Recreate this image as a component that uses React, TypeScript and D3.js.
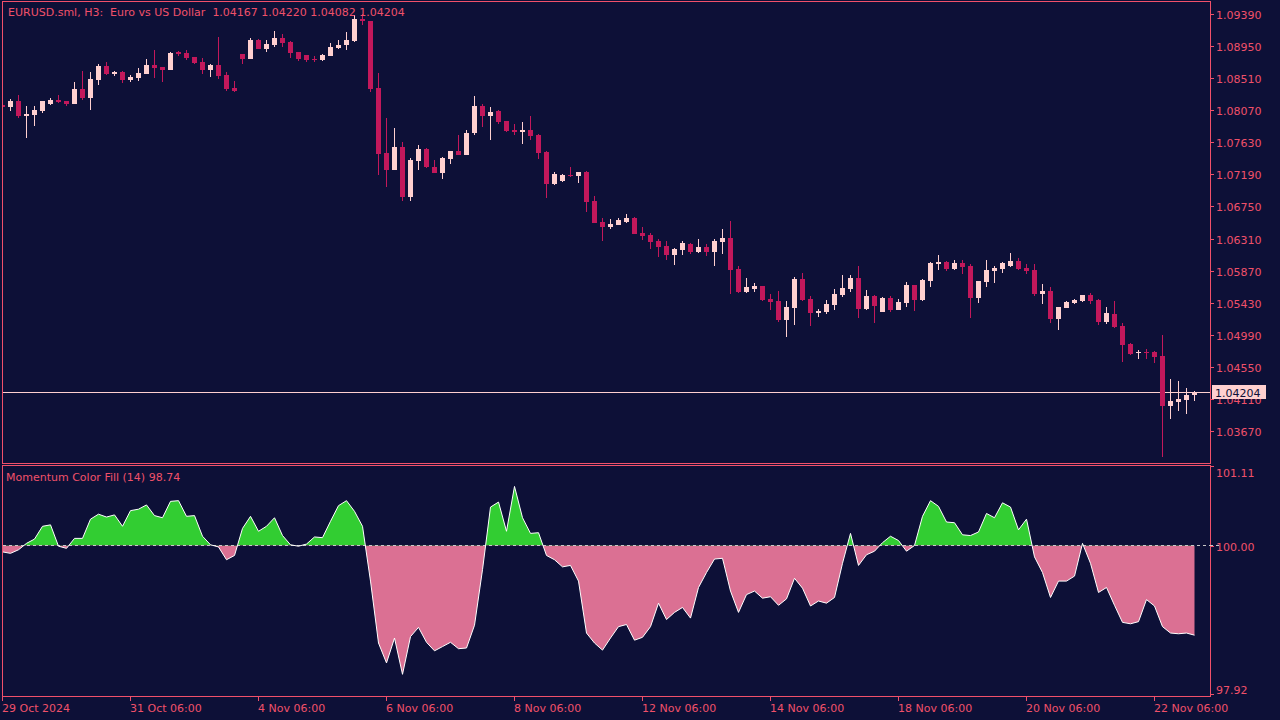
import React from 'react';
import * as d3 from 'd3';

const open = [
  1.08142, 1.08119, 1.08197, 1.07991, 1.08009, 1.08064, 1.08160, 1.08215, 1.08197, 1.08160,
  1.08361, 1.08238, 1.08485, 1.08677, 1.08571, 1.08594, 1.08485, 1.08512, 1.08567, 1.08690,
  1.08663, 1.08622, 1.08869, 1.08855, 1.08800, 1.08732, 1.08622, 1.08690, 1.08553, 1.08375,
  1.08841, 1.08773, 1.09033, 1.08910, 1.08965, 1.09061, 1.09006, 1.08869, 1.08828, 1.08773,
  1.08759, 1.08814, 1.08924, 1.08965, 1.09020, 1.09321, 1.09294, 1.08375, 1.07484, 1.07250,
  1.07566, 1.06880, 1.07374, 1.07538, 1.07292, 1.07209, 1.07401, 1.07511, 1.07456, 1.07758,
  1.08128, 1.07991, 1.08060, 1.07922, 1.07799, 1.07772, 1.07799, 1.07730, 1.07497, 1.07058,
  1.07100, 1.07182, 1.07168, 1.07223, 1.06825, 1.06537, 1.06469, 1.06496, 1.06537, 1.06592,
  1.06386, 1.06359, 1.06277, 1.06208, 1.06085, 1.06153, 1.06235, 1.06126, 1.06194, 1.06126,
  1.06263, 1.06318, 1.05893, 1.05577, 1.05618, 1.05659, 1.05481, 1.05454, 1.05193, 1.05358,
  1.05755, 1.05481, 1.05289, 1.05303, 1.05399, 1.05536, 1.05618, 1.05769, 1.05344, 1.05522,
  1.05303, 1.05495, 1.05330, 1.05426, 1.05673, 1.05467, 1.05728, 1.05961, 1.05989, 1.05893,
  1.05975, 1.05934, 1.05495, 1.05714, 1.05865, 1.05893, 1.05934, 1.06002, 1.05906, 1.05879,
  1.05550, 1.05591, 1.05207, 1.05358, 1.05426, 1.05454, 1.05536, 1.05467, 1.05166, 1.05275,
  1.05111, 1.04864, 1.04740, 1.04754, 1.04754, 1.04699, 1.04013, 1.04068, 1.04096, 1.04167,
];
const high = [
  1.08156, 1.08224, 1.08279, 1.08128, 1.08128, 1.08197, 1.08238, 1.08279, 1.08197, 1.08457,
  1.08608, 1.08594, 1.08708, 1.08732, 1.08612, 1.08608, 1.08553, 1.08649, 1.08773, 1.08896,
  1.08663, 1.08873, 1.08883, 1.08896, 1.08800, 1.08787, 1.08704, 1.09075, 1.08594, 1.08471,
  1.08841, 1.09061, 1.09047, 1.09033, 1.09157, 1.09116, 1.09020, 1.08869, 1.08828, 1.08814,
  1.08841, 1.08992, 1.09033, 1.09143, 1.09376, 1.09390, 1.09294, 1.08581, 1.07964, 1.07826,
  1.07634, 1.07415, 1.07593, 1.07552, 1.07388, 1.07429, 1.07511, 1.07730, 1.07799, 1.08265,
  1.08156, 1.08114, 1.08073, 1.07922, 1.07881, 1.07909, 1.07991, 1.07744, 1.07511, 1.07223,
  1.07196, 1.07292, 1.07223, 1.07237, 1.06894, 1.06592, 1.06578, 1.06592, 1.06647, 1.06606,
  1.06469, 1.06386, 1.06304, 1.06277, 1.06181, 1.06277, 1.06249, 1.06304, 1.06235, 1.06304,
  1.06441, 1.06551, 1.05934, 1.05769, 1.05701, 1.05659, 1.05550, 1.05591, 1.05454, 1.05783,
  1.05838, 1.05522, 1.05344, 1.05467, 1.05618, 1.05810, 1.05810, 1.05934, 1.05605, 1.05536,
  1.05508, 1.05522, 1.05481, 1.05714, 1.05673, 1.05755, 1.05989, 1.06085, 1.06002, 1.06016,
  1.06016, 1.05961, 1.05728, 1.06016, 1.05934, 1.05989, 1.06112, 1.06043, 1.05961, 1.05961,
  1.05687, 1.05646, 1.05371, 1.05454, 1.05481, 1.05536, 1.05563, 1.05481, 1.05371, 1.05454,
  1.05152, 1.04878, 1.04782, 1.04795, 1.04768, 1.04987, 1.04384, 1.04356, 1.04260, 1.04220,
];
const low = [
  1.08101, 1.08064, 1.07968, 1.07693, 1.07858, 1.08036, 1.08142, 1.08173, 1.08132, 1.08160,
  1.08215, 1.08077, 1.08416, 1.08553, 1.08544, 1.08444, 1.08461, 1.08471, 1.08567, 1.08512,
  1.08457, 1.08622, 1.08814, 1.08759, 1.08704, 1.08567, 1.08526, 1.08498, 1.08334, 1.08320,
  1.08704, 1.08773, 1.08910, 1.08869, 1.08937, 1.08937, 1.08787, 1.08745, 1.08732, 1.08732,
  1.08745, 1.08814, 1.08910, 1.08896, 1.09006, 1.09239, 1.08320, 1.07182, 1.07017, 1.07250,
  1.06825, 1.06825, 1.07250, 1.07278, 1.07209, 1.07127, 1.07333, 1.07456, 1.07456, 1.07730,
  1.07840, 1.07662, 1.07881, 1.07772, 1.07730, 1.07607, 1.07662, 1.07401, 1.06866, 1.07045,
  1.07086, 1.07154, 1.07072, 1.06674, 1.06523, 1.06277, 1.06441, 1.06496, 1.06523, 1.06373,
  1.06290, 1.06167, 1.06057, 1.06016, 1.05947, 1.06085, 1.06098, 1.06112, 1.06071, 1.05934,
  1.06098, 1.05550, 1.05563, 1.05563, 1.05577, 1.05454, 1.05330, 1.05166, 1.04960, 1.05124,
  1.05454, 1.05111, 1.05234, 1.05275, 1.05330, 1.05508, 1.05577, 1.05220, 1.05330, 1.05152,
  1.05303, 1.05303, 1.05330, 1.05371, 1.05316, 1.05454, 1.05646, 1.05879, 1.05865, 1.05879,
  1.05824, 1.05220, 1.05426, 1.05646, 1.05701, 1.05838, 1.05920, 1.05879, 1.05824, 1.05522,
  1.05412, 1.05152, 1.05056, 1.05358, 1.05412, 1.05440, 1.05412, 1.05124, 1.05138, 1.05083,
  1.04617, 1.04713, 1.04658, 1.04658, 1.04603, 1.03314, 1.03835, 1.03945, 1.03904, 1.04082,
];
const close = [
  1.08114, 1.08197, 1.07991, 1.08018, 1.08077, 1.08197, 1.08215, 1.08187, 1.08160, 1.08361,
  1.08238, 1.08498, 1.08677, 1.08567, 1.08594, 1.08485, 1.08526, 1.08581, 1.08690, 1.08649,
  1.08622, 1.08855, 1.08841, 1.08787, 1.08718, 1.08622, 1.08690, 1.08540, 1.08361, 1.08334,
  1.08773, 1.09033, 1.08910, 1.08979, 1.09061, 1.08992, 1.08855, 1.08773, 1.08759, 1.08770,
  1.08828, 1.08937, 1.08965, 1.09033, 1.09321, 1.09294, 1.08361, 1.07470, 1.07250, 1.07566,
  1.06880, 1.07388, 1.07538, 1.07292, 1.07209, 1.07415, 1.07511, 1.07456, 1.07758, 1.08128,
  1.07991, 1.08046, 1.07909, 1.07785, 1.07772, 1.07799, 1.07717, 1.07484, 1.07058, 1.07196,
  1.07182, 1.07168, 1.07223, 1.06812, 1.06523, 1.06469, 1.06510, 1.06565, 1.06592, 1.06373,
  1.06345, 1.06263, 1.06194, 1.06085, 1.06167, 1.06249, 1.06126, 1.06194, 1.06126, 1.06277,
  1.06318, 1.05879, 1.05577, 1.05646, 1.05659, 1.05467, 1.05440, 1.05193, 1.05371, 1.05755,
  1.05467, 1.05289, 1.05316, 1.05412, 1.05550, 1.05632, 1.05769, 1.05344, 1.05522, 1.05385,
  1.05495, 1.05330, 1.05440, 1.05673, 1.05467, 1.05742, 1.05975, 1.05989, 1.05893, 1.05975,
  1.05920, 1.05495, 1.05728, 1.05879, 1.05906, 1.05975, 1.06002, 1.05893, 1.05865, 1.05550,
  1.05591, 1.05207, 1.05371, 1.05440, 1.05467, 1.05536, 1.05454, 1.05166, 1.05289, 1.05097,
  1.04850, 1.04727, 1.04754, 1.04740, 1.04686, 1.04013, 1.04082, 1.04110, 1.04164, 1.04204,
];
const momentum = [
  99.91, 99.89, 99.94, 100.03, 100.09, 100.27, 100.29, 99.99, 99.96, 100.10,
  100.10, 100.37, 100.44, 100.40, 100.43, 100.27, 100.49, 100.51, 100.57, 100.42,
  100.39, 100.62, 100.63, 100.41, 100.42, 100.13, 100.01, 99.98, 99.80, 99.86,
  100.24, 100.41, 100.20, 100.27, 100.39, 100.14, 100.01, 99.99, 100.02, 100.12,
  100.11, 100.34, 100.56, 100.63, 100.48, 100.27, 99.50, 98.63, 98.35, 98.70,
  98.19, 98.72, 98.85, 98.64, 98.52, 98.58, 98.64, 98.55, 98.56, 98.88,
  99.66, 100.54, 100.61, 100.20, 100.83, 100.39, 100.17, 100.18, 99.86, 99.80,
  99.70, 99.72, 99.50, 98.77, 98.63, 98.53, 98.70, 98.86, 98.89, 98.67,
  98.71, 98.86, 99.19, 98.96, 99.06, 99.13, 98.98, 99.41, 99.62, 99.81,
  99.82, 99.36, 99.06, 99.31, 99.36, 99.26, 99.28, 99.16, 99.25, 99.54,
  99.40, 99.15, 99.22, 99.19, 99.27, 99.75, 100.17, 99.72, 99.87, 99.92,
  100.04, 100.13, 100.07, 99.92, 100.00, 100.41, 100.63, 100.55, 100.33, 100.32,
  100.15, 100.14, 100.19, 100.45, 100.39, 100.60, 100.54, 100.22, 100.37, 99.84,
  99.62, 99.27, 99.50, 99.50, 99.57, 100.03, 99.75, 99.34, 99.41, 99.16,
  98.92, 98.90, 98.93, 99.24, 99.15, 98.86, 98.77, 98.76, 98.77, 98.74,
];
const priceTicks = [1.0939, 1.0895, 1.0851, 1.0807, 1.0763, 1.0719, 1.0675, 1.0631, 1.0587, 1.0543, 1.0499, 1.0455, 1.0411, 1.0367];
const momTicks = [101.11, 100.0, 97.92];
const timeLabels = ['29 Oct 2024', '31 Oct 06:00', '4 Nov 06:00', '6 Nov 06:00', '8 Nov 06:00', '12 Nov 06:00', '14 Nov 06:00', '18 Nov 06:00', '20 Nov 06:00', '22 Nov 06:00'];
const timeIndex = [0, 16, 32, 48, 64, 80, 96, 112, 128, 144];
const lastPrice = 1.04204;
const title = 'EURUSD.sml, H3:  Euro vs US Dollar  1.04167 1.04220 1.04082 1.04204';
const indTitle = 'Momentum Color Fill (14) 98.74';

const BG = '#0D1037';
const AX = '#F0506A';
const BULL = '#FFD0D0';
const BEAR = '#C2185B';
const GREEN = '#32CD32';
const PINK = '#DB7093';
const FONT = '"DejaVu Sans", Verdana, sans-serif';
const FS = 11;

export default function App() {
  const n = close.length;
  const x = d3.scaleLinear().domain([0, n - 1]).range([2, 2 + 8 * (n - 1)]);
  const y = d3.scaleLinear().domain([1.0367, 1.0939]).range([431, 14]);
  const ym = d3.scaleLinear().domain([100, 101.11]).range([545.5, 466.5]);

  const mainLeft = 2.5, mainRight = 1210.5, mainTop = 1.5, mainBottom = 463.5;
  const indTop = 465.5, indBottom = 696.5;
  const y100 = ym(100);

  const area = d3.area<number>()
    .x((_, i) => x(i) + 0.5)
    .y0(y100)
    .y1((d) => ym(d));
  const line = d3.line<number>()
    .x((_, i) => x(i) + 0.5)
    .y((d) => ym(d));

  const lastY = Math.round(y(lastPrice));

  return (
    <svg width={1280} height={720} style={{ position: 'fixed', left: 0, top: 0, display: 'block' }}
      fontFamily={FONT} fontSize={FS}>
      <defs>
        <clipPath id="mainClip">
          <rect x={3} y={2} width={1207} height={461} />
        </clipPath>
        <clipPath id="above">
          <rect x={3} y={466} width={1207} height={y100 - 466} />
        </clipPath>
        <clipPath id="below">
          <rect x={3} y={y100} width={1207} height={696 - y100} />
        </clipPath>
      </defs>
      <rect x={0} y={0} width={1280} height={720} fill={BG} />

      {/* main pane */}
      <g clipPath="url(#mainClip)" shapeRendering="crispEdges">
        <line x1={3} x2={1210} y1={lastY + 0.5} y2={lastY + 0.5} stroke={BULL} strokeWidth={1} />
        {close.map((c, i) => {
          const o = open[i];
          const col = x(i);
          const bull = c > o;
          const color = bull ? BULL : BEAR;
          const yh = Math.round(y(high[i]));
          const yl = Math.round(y(low[i]));
          const yt = Math.round(y(Math.max(o, c)));
          const yb = Math.round(y(Math.min(o, c)));
          return (
            <g key={i} fill={color}>
              <rect x={col} y={yh} width={1} height={Math.max(1, yl - yh)} />
              <rect x={col - 2} y={yt} width={5} height={Math.max(1, yb - yt)} />
            </g>
          );
        })}
      </g>
      <text x={8} y={16} fill={AX} style={{ whiteSpace: 'pre' }}>{title}</text>

      {/* indicator pane */}
      <path d={area(momentum) || ''} fill={GREEN} clipPath="url(#above)" />
      <path d={area(momentum) || ''} fill={PINK} clipPath="url(#below)" />
      <line x1={3} x2={1210} y1={y100} y2={y100} stroke="#C8C8C8" strokeWidth={1} strokeDasharray="3 3" shapeRendering="crispEdges" />
      <path d={line(momentum) || ''} fill="none" stroke="#FFFFFF" strokeWidth={1} />
      <text x={6} y={481} fill={AX}>{indTitle}</text>

      {/* frames */}
      <g fill="none" stroke={AX} strokeWidth={1} shapeRendering="crispEdges">
        <rect x={mainLeft} y={mainTop} width={mainRight - mainLeft} height={mainBottom - mainTop} />
        <rect x={mainLeft} y={indTop} width={mainRight - mainLeft} height={indBottom - indTop} />
      </g>

      {/* price axis */}
      <g shapeRendering="crispEdges">
        {priceTicks.map((p) => {
          const ty = Math.round(y(p)) + 0.5;
          return (
            <g key={p}>
              <line x1={1210} x2={1214} y1={ty} y2={ty} stroke={AX} />
              <text x={1216} y={ty + 4} fill={AX}>{p.toFixed(5)}</text>
            </g>
          );
        })}
      </g>
      <rect x={1212} y={lastY - 7} width={54} height={14} fill={BULL} />
      <text x={1215} y={lastY + 4.5} fill={BG}>{lastPrice.toFixed(5)}</text>

      {/* indicator axis */}
      <g shapeRendering="crispEdges">
        {momTicks.map((v, i) => {
          const ty = i === 0 ? 466.5 : i === 2 ? 694.5 : Math.round(ym(v)) + 0.5;
          const textY = i === 0 ? 477 : i === 2 ? 694 : ty + 4.5;
          return (
            <g key={v}>
              <line x1={1210} x2={1214} y1={ty} y2={ty} stroke={AX} />
              <text x={1216} y={textY} fill={AX}>{v.toFixed(2)}</text>
            </g>
          );
        })}
        <line x1={1210} x2={1222} y1={y100} y2={y100} stroke="#C8C8C8" strokeDasharray="3 3" />
      </g>

      {/* time axis */}
      <g shapeRendering="crispEdges">
        {timeIndex.map((k, i) => {
          const tx = x(k) + 0.5;
          return (
            <g key={k}>
              <line x1={tx} x2={tx} y1={696} y2={701} stroke={AX} />
              <text x={x(k)} y={712} fill={AX}>{timeLabels[i]}</text>
            </g>
          );
        })}
      </g>
    </svg>
  );
}
